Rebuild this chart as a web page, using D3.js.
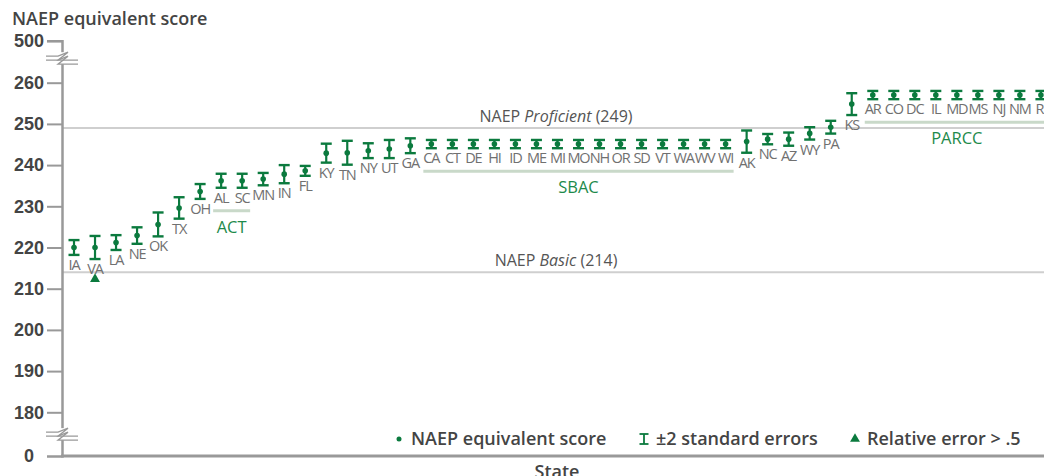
<!DOCTYPE html>
<html lang="en">
<head>
<meta charset="UTF-8">
<title>NAEP equivalent scores by state</title>
<script src="https://d3js.org/d3.v7.min.js"></script>
<style>
    body { margin: 0; background: #fff; }
    svg { font-family: "Open Sans", sans-serif; }
    .tick text { font-size: 18px; font-weight: 600; fill: #444; }
    .state-label { font-size: 14.5px; fill: #707070; letter-spacing: -1.1px; }
    .ref-label { font-size: 16px; fill: #555; }
    .group-label { font-size: 16.5px; fill: #1e8a4b; }
    .legend text { font-size: 18px; font-weight: 600; fill: #444; }
</style>
</head>
<body>
<div id="chart"></div>
<script>
    const states = ["IA","VA","LA","NE","OK","TX","OH","AL","SC","MN","IN","FL","KY","TN","NY","UT","GA",
                    "CA","CT","DE","HI","ID","ME","MI","MO","NH","OR","SD","VT","WA","WV","WI",
                    "AK","NC","AZ","WY","PA","KS",
                    "AR","CO","DC","IL","MD","MS","NJ","NM","RI"];
    const scores = [220.0,220.0,221.2,222.9,225.6,229.6,233.6,236.2,236.2,236.6,237.8,238.6,242.9,243.0,243.5,243.9,244.7,
                    245.1,245.1,245.1,245.1,245.1,245.1,245.1,245.1,245.1,245.1,245.1,245.1,245.1,245.1,245.1,
                    245.7,246.3,246.3,247.7,249.2,254.8,
                    257.0,257.0,257.0,257.0,257.0,257.0,257.0,257.0,257.0];
    const errors = [1.8,2.8,1.8,2.0,2.9,2.6,1.8,1.7,1.7,1.5,2.2,1.2,2.3,2.9,1.8,2.2,1.8,
                    1.0,1.0,1.0,1.0,1.0,1.0,1.0,1.0,1.0,1.0,1.0,1.0,1.0,1.0,1.0,
                    2.7,1.25,1.6,1.5,1.55,2.65,
                    1.0,1.0,1.0,1.0,1.0,1.0,1.0,1.0,1.0];
    const flagged = ["VA"];

    const groupNames = ["ACT", "SBAC", "PARCC"];
    const groupFirst = ["AL", "CA", "AR"];
    const groupLast  = ["SC", "WI", "RI"];

    const refValues = [249, 214];
    const refNames  = ["Proficient", "Basic"];

    const yTicks = [0, 180, 190, 200, 210, 220, 230, 240, 250, 260, 500];

    const legendLabels = ["NAEP equivalent score", "\u00b12 standard errors", "Relative error > .5"];

    const data = states.map((s, i) => ({ state: s, score: scores[i], err: errors[i] }));

    const width = 1044, height = 476;
    const green = "#0b7a3e";
    const axisX = 62, axisBottom = 456;

    const svg = d3.select("#chart").append("svg")
        .attr("width", width)
        .attr("height", height);

    // broken y scale: 0 | 180..260 | 500
    const y = d3.scaleLinear()
        .domain([0, 180, 260, 500])
        .range([axisBottom, 412.3, 82.7, 40.7]);

    const x = d3.scalePoint()
        .domain(states)
        .range([74, 74 + 21.02 * (states.length - 1)]);

    // reference lines
    refValues.forEach((v, i) => {
        svg.append("line")
            .attr("x1", axisX).attr("x2", width)
            .attr("y1", y(v)).attr("y2", y(v))
            .attr("stroke", "#cfcfcf")
            .attr("stroke-width", 2);

        const t = svg.append("text")
            .attr("class", "ref-label")
            .attr("x", 556)
            .attr("y", y(v) - 6)
            .attr("text-anchor", "middle");
        t.append("tspan").text("NAEP ");
        t.append("tspan").attr("font-style", "italic").text(refNames[i]);
        t.append("tspan").text(" (" + v + ")");
    });

    // y axis
    const yAxis = d3.axisLeft(y).tickValues(yTicks).tickSize(15).tickPadding(3);
    const yg = svg.append("g")
        .attr("transform", `translate(${axisX},0)`)
        .call(yAxis);
    yg.select(".domain").attr("stroke", "#999").attr("stroke-width", 2.5);
    yg.selectAll(".tick line").attr("stroke", "#999").attr("stroke-width", 2);
    yg.selectAll(".tick").filter(d => d === 0).select("line").remove();
    yg.selectAll(".tick").filter(d => d === 0).select("text").attr("x", -28);

    // x axis line
    svg.append("line")
        .attr("x1", axisX - 1).attr("x2", width)
        .attr("y1", axisBottom).attr("y2", axisBottom)
        .attr("stroke", "#999")
        .attr("stroke-width", 3);

    // axis break marks
    [y(400), y(90)].forEach(by => {
        const g = svg.append("g").attr("transform", `translate(${axisX},${by})`);
        g.append("rect").attr("x", -3).attr("y", -6).attr("width", 6).attr("height", 12).attr("fill", "#fff");
        [-2, 2].forEach(o => {
            g.append("path")
                .attr("d", `M-16,${o} H-4 L6,${o - 4} L-4,${o + 4} H16`)
                .attr("fill", "none")
                .attr("stroke", "#999")
                .attr("stroke-width", 1.3);
        });
    });

    // titles
    svg.append("text")
        .attr("x", 12).attr("y", 25)
        .attr("font-size", 18).attr("font-weight", 600).attr("fill", "#444")
        .text("NAEP equivalent score");

    svg.append("text")
        .attr("x", 557).attr("y", 478)
        .attr("text-anchor", "middle")
        .attr("font-size", 18).attr("font-weight", 600).attr("fill", "#444")
        .text("State");

    // consortium groups
    groupNames.forEach((name, i) => {
        const members = states.slice(states.indexOf(groupFirst[i]), states.indexOf(groupLast[i]) + 1);
        const low = d3.min(data.filter(d => members.includes(d.state)), d => d.score - d.err);
        const x0 = x(groupFirst[i]) - 8, x1 = x(groupLast[i]) + 8;
        const ly = y(low) + 23;
        svg.append("line")
            .attr("x1", x0).attr("x2", x1)
            .attr("y1", ly).attr("y2", ly)
            .attr("stroke", "#c9d9c9")
            .attr("stroke-width", 3);
        svg.append("text")
            .attr("class", "group-label")
            .attr("x", (x(groupFirst[i]) + x(groupLast[i])) / 2)
            .attr("y", ly + 22)
            .attr("text-anchor", "middle")
            .text(name);
    });

    // error bars
    const capW = 5.5;
    const bars = svg.append("g").selectAll("g").data(data).join("g");
    bars.append("line")
        .attr("x1", d => x(d.state)).attr("x2", d => x(d.state))
        .attr("y1", d => y(d.score + d.err)).attr("y2", d => y(d.score - d.err))
        .attr("stroke", green).attr("stroke-width", 2.2);
    bars.append("line")
        .attr("x1", d => x(d.state) - capW).attr("x2", d => x(d.state) + capW)
        .attr("y1", d => y(d.score + d.err)).attr("y2", d => y(d.score + d.err))
        .attr("stroke", green).attr("stroke-width", 2.4);
    bars.append("line")
        .attr("x1", d => x(d.state) - capW).attr("x2", d => x(d.state) + capW)
        .attr("y1", d => y(d.score - d.err)).attr("y2", d => y(d.score - d.err))
        .attr("stroke", green).attr("stroke-width", 2.4);
    bars.append("circle")
        .attr("cx", d => x(d.state)).attr("cy", d => y(d.score))
        .attr("r", 2.8).attr("fill", green);
    bars.append("text")
        .attr("class", "state-label")
        .attr("x", d => x(d.state))
        .attr("y", d => y(d.score - d.err) + 15)
        .attr("text-anchor", "middle")
        .text(d => d.state);

    // relative error flags
    const tri = d3.symbol().type(d3.symbolTriangle).size(42);
    svg.append("g").selectAll("path")
        .data(data.filter(d => flagged.includes(d.state)))
        .join("path")
        .attr("d", tri)
        .attr("transform", d => `translate(${x(d.state)},${y(d.score - d.err) + 20})`)
        .attr("fill", green);

    // legend
    const legend = svg.append("g").attr("class", "legend");
    const legendX = [399, 644, 855];
    legend.append("circle").attr("cx", legendX[0]).attr("cy", 439).attr("r", 2.5).attr("fill", green);
    const ic = legend.append("g").attr("transform", `translate(${legendX[1]},439)`);
    ic.append("line").attr("x1", 0).attr("x2", 0).attr("y1", -5).attr("y2", 5).attr("stroke", green).attr("stroke-width", 1.8);
    ic.append("line").attr("x1", -4.5).attr("x2", 4.5).attr("y1", -5).attr("y2", -5).attr("stroke", green).attr("stroke-width", 1.8);
    ic.append("line").attr("x1", -4.5).attr("x2", 4.5).attr("y1", 5).attr("y2", 5).attr("stroke", green).attr("stroke-width", 1.8);
    legend.append("path").attr("d", tri).attr("transform", `translate(${legendX[2]},439)`).attr("fill", green);
    legendLabels.forEach((lab, i) => {
        legend.append("text")
            .attr("x", legendX[i] + 12)
            .attr("y", 445)
            .text(lab);
    });
</script>
</body>
</html>
